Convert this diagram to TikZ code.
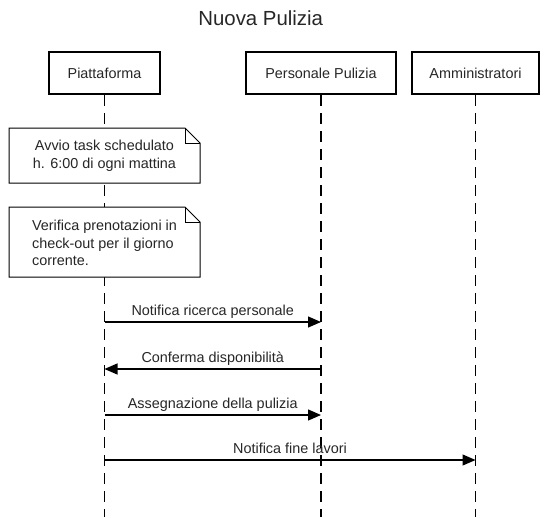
\documentclass[tikz,border=0pt]{standalone}
\usepackage{fontspec}
\setmainfont{Liberation Sans}
\usetikzlibrary{arrows.meta}
\begin{document}
\begin{tikzpicture}[x=1pt,y=-1pt,
  lbl/.style={font=\fontsize{14.4}{17.3}\selectfont, inner sep=0pt, text=black!85},
  actor/.style={draw, line width=2pt, minimum height=42pt, text height=10.3pt, text depth=0pt, inner sep=0pt, lbl},
  lifeline/.style={line width=1.3pt, dash pattern=on 11pt off 7pt},
  notefill/.style={draw, line width=1pt, fill=white, line join=miter},
  notetext/.style={lbl, anchor=north},
  msg/.style={line width=1.2pt, -{Triangle[length=13pt,width=11pt]}},
  msglbl/.style={lbl, anchor=base}]
\useasboundingbox (0,0) rectangle (549,517);

\node[lbl, font=\fontsize{20.4}{24}\selectfont, anchor=base] (title) at (260.7,25) {Nuova Pulizia};

\node[actor, minimum width=111pt] (pA) at (104.5,73) {Piattaforma};
\node[actor, minimum width=150pt] (pB) at (321,73) {Personale Pulizia};
\node[actor, minimum width=127pt] (pC) at (475.5,73) {Amministratori};

\coordinate (eA) at (104.5,517);
\coordinate (eB) at (321,517);
\coordinate (eC) at (475.5,517);
\draw[lifeline] (pA.south) -- (eA);
\draw[lifeline] (pB.south) -- (eB);
\draw[lifeline] (pC.south) -- (eC);

% note 1
\draw[notefill] (9,128) -- (185,128) -- (200,143) -- (200,183) -- (9,183) -- cycle;
\draw[line width=1pt] (185,128) -- (185,143) -- (200,143);
\node[notetext, align=center] (n1) at (104.5,140.2) {Avvio task schedulato\\h. 6:00 di ogni mattina};

% note 2
\draw[notefill] (9,207) -- (185,207) -- (200,222) -- (200,277) -- (9,277) -- cycle;
\draw[line width=1pt] (185,207) -- (185,222) -- (200,222);
\node[notetext, align=left] (n2) at (104.5,220.2) {Verifica prenotazioni in\\check-out per il giorno\\corrente.};

% messages
\coordinate (m1a) at (104.5,322); \coordinate (m1b) at (321,322);
\coordinate (m2a) at (104.5,369); \coordinate (m2b) at (321,369);
\coordinate (m3a) at (104.5,415); \coordinate (m3b) at (321,415);
\coordinate (m4a) at (104.5,460); \coordinate (m4b) at (475.5,460);

\draw[msg] (m1a) -- (m1b);
\node[msglbl] (l1) at (212.75,315.5) {Notifica ricerca personale};
\draw[msg] (m2b) -- (m2a);
\node[msglbl] (l2) at (212.75,362.5) {Conferma disponibilità};
\draw[msg] (m3a) -- (m3b);
\node[msglbl] (l3) at (212.75,408.5) {Assegnazione della pulizia};
\draw[msg] (m4a) -- (m4b);
\node[msglbl] (l4) at (290,453.5) {Notifica fine lavori};
\end{tikzpicture}
\end{document}
